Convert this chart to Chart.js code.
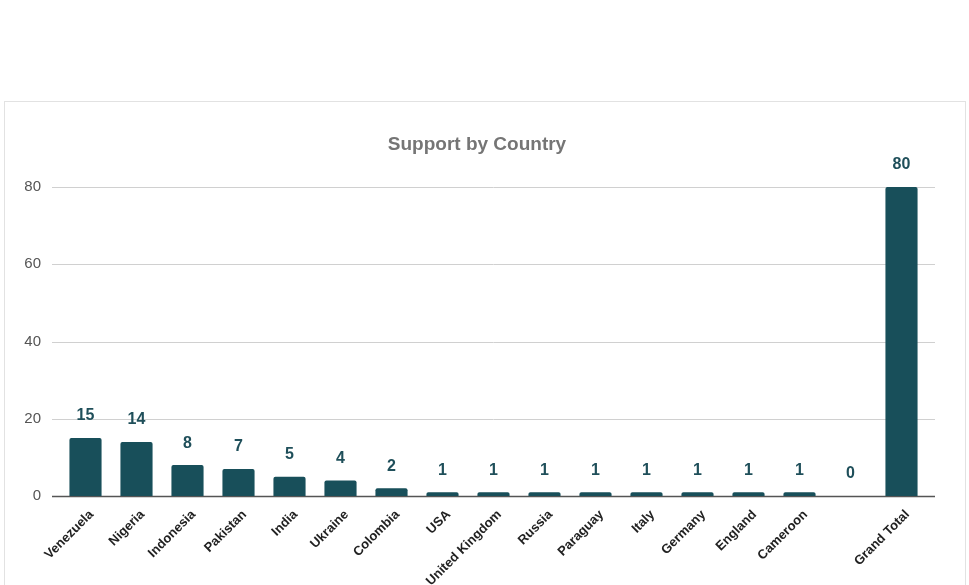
<!DOCTYPE html>
<html>
<head>
<meta charset="utf-8">
<script src="https://cdn.jsdelivr.net/npm/chart.js@4"></script>
<style>
  html, body { margin: 0; padding: 0; background: #fff; }
  #frame {
    position: absolute; left: 4px; top: 101px; width: 962px; height: 600px;
    border: 1px solid #e2e2e2; box-sizing: border-box;
  }
  #wrap { position: absolute; left: 0; top: 0; width: 969px; height: 585px; }
</style>
</head>
<body>
<div id="frame"></div>
<div id="wrap"><canvas id="chart" width="969" height="585"></canvas></div>
<script>
// Chart data
const countries = ['Venezuela', 'Nigeria', 'Indonesia', 'Pakistan', 'India', 'Ukraine', 'Colombia',
  'USA', 'United Kingdom', 'Russia', 'Paraguay', 'Italy', 'Germany', 'England', 'Cameroon', '', 'Grand Total'];
const supportCounts = [15, 14, 8, 7, 5, 4, 2, 1, 1, 1, 1, 1, 1, 1, 1, 0, 80];
const yTicks = [0, 20, 40, 60, 80];
const chartTitle = 'Support by Country';

const barColor = '#184f5a';

// Horizontal grid lines, a bit wider than the category band
const gridPlugin = {
  id: 'wideGrid',
  beforeDatasetsDraw(chart) {
    const { ctx, chartArea, scales } = chart;
    ctx.save();
    yTicks.forEach(v => {
      const y = Math.round(scales.y.getPixelForValue(v)) + 0.5;
      ctx.beginPath();
      ctx.moveTo(chartArea.left - 8, y);
      ctx.lineTo(chartArea.right + 8, y);
      ctx.lineWidth = v === 0 ? 1.5 : 1;
      ctx.strokeStyle = v === 0 ? '#555' : '#d0d0d0';
      ctx.stroke();
    });
    ctx.restore();
  }
};

// Value labels above each bar, plus the title centred on the frame
const valueLabels = {
  id: 'valueLabels',
  afterDatasetsDraw(chart) {
    const { ctx } = chart;
    const meta = chart.getDatasetMeta(0);
    ctx.save();
    ctx.font = 'bold 16px "Liberation Sans", Arial, sans-serif';
    ctx.fillStyle = '#1f4f5a';
    ctx.textAlign = 'center';
    ctx.textBaseline = 'middle';
    meta.data.forEach((bar, i) => {
      ctx.fillText(String(supportCounts[i]), bar.x, bar.y - 22);
    });

    ctx.font = 'bold 19px "Liberation Sans", Arial, sans-serif';
    ctx.fillStyle = '#757575';
    ctx.fillText(chartTitle, 477, 145);
    ctx.restore();
  }
};

new Chart(document.getElementById('chart').getContext('2d'), {
  type: 'bar',
  data: {
    labels: countries,
    datasets: [{
      data: supportCounts,
      backgroundColor: barColor,
      borderRadius: { topLeft: 2, topRight: 2 },
      borderSkipped: 'bottom',
      barPercentage: 0.63,
      categoryPercentage: 1
    }]
  },
  options: {
    responsive: false,
    animation: false,
    layout: {
      padding: { top: 187, right: 42, left: 0, bottom: 0 }
    },
    plugins: {
      legend: { display: false },
      tooltip: { enabled: false },
      title: { display: false }
    },
    scales: {
      y: {
        min: 0,
        max: 80,
        afterFit: scale => { scale.width = 60; },
        afterBuildTicks: scale => { scale.ticks = yTicks.map(v => ({ value: v })); },
        grid: { display: false },
        border: { display: false },
        ticks: {
          padding: 11,
          color: '#555',
          font: { family: '"Liberation Sans", Arial, sans-serif', size: 15 }
        }
      },
      x: {
        afterFit: scale => { scale.height = 89; },
        grid: { display: false },
        border: { display: false },
        ticks: {
          autoSkip: false,
          minRotation: 45,
          maxRotation: 45,
          labelOffset: 6,
          color: '#222',
          font: { family: '"Liberation Sans", Arial, sans-serif', size: 13, weight: 'bold' }
        }
      }
    }
  },
  plugins: [gridPlugin, valueLabels]
});
</script>
</body>
</html>
